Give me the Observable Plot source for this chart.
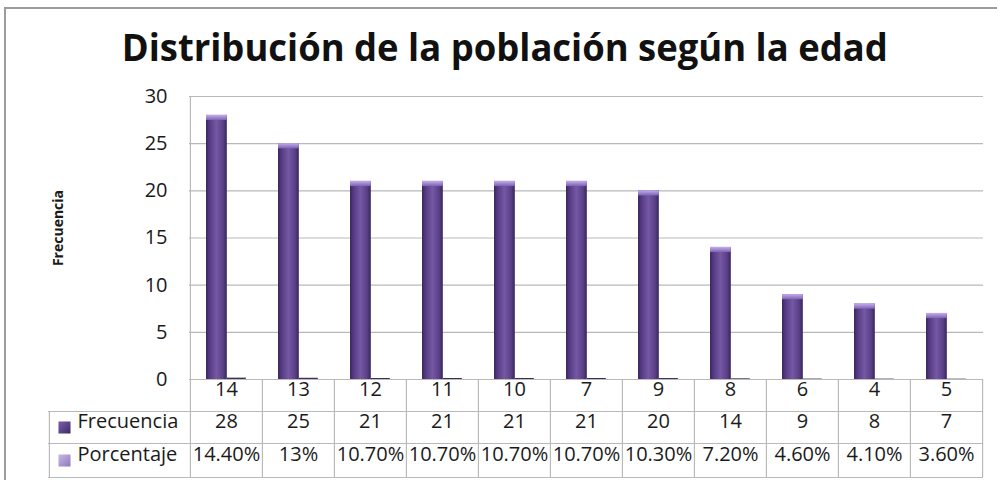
<!DOCTYPE html>
<html>
<head>
<meta charset="utf-8">
<script src="https://cdn.jsdelivr.net/npm/d3@7"></script>
<script src="https://cdn.jsdelivr.net/npm/@observablehq/plot@0.6"></script>
<style>
  html, body { margin: 0; padding: 0; background: #fff; }
  #wrap { position: relative; width: 997px; height: 480px; overflow: hidden; font-family: "Open Sans", sans-serif; color: #1a1a1a; }
  #frame { position: absolute; left: 4px; top: 7px; width: 993px; height: 480px; border-left: 2px solid #9c9c9c; border-top: 2px solid #9c9c9c; box-sizing: border-box; }
  #title { position: absolute; left: 0; width: 1010px; top: 20px; text-align: center; white-space: nowrap; }
  #title span { display: inline-block; font-weight: 700; font-size: 38px; color: #111; transform-origin: center; }
  #chart { position: absolute; left: 0; top: 80px; }
</style>
</head>
<body>
<div id="wrap">
  <div id="frame"></div>
  <div id="title"><span id="titleText">Distribución de la población según la edad</span></div>
  <div id="chart"></div>
</div>
<script>
// ---- data ----
const categories = ["14", "13", "12", "11", "10", "7", "9", "8", "6", "4", "5"];
const frecuencia = [28, 25, 21, 21, 21, 21, 20, 14, 9, 8, 7];
const porcentaje = [14.4, 13, 10.7, 10.7, 10.7, 10.7, 10.3, 7.2, 4.6, 4.1, 3.6];
const yTicks = [0, 5, 10, 15, 20, 25, 30];
const rowLabels = ["Frecuencia", "Porcentaje"];
const yLabel = "Frecuencia";

const fmtPct = d => (Number.isInteger(d) ? String(d) : d.toFixed(2)) + "%";
const data = categories.map((c, i) => ({cat: c, frec: frecuencia[i], pct: porcentaje[i]}));

// ---- layout ----
const W = 997, H = 400, mL = 189, mR = 14, mT = 16, mB = 101;
const bw = (W - mL - mR) / categories.length;
const rowH = 32;
const hdrW = 141;
const lineC = "#b9b9b9";

const svg = Plot.plot({
  width: W, height: H,
  marginLeft: mL, marginRight: mR, marginTop: mT, marginBottom: mB,
  style: {fontFamily: "'Open Sans', sans-serif", fontSize: "20px", color: "#1a1a1a", background: "transparent", overflow: "visible"},
  x: {domain: categories, padding: 0, axis: null},
  y: {domain: [0, 30], ticks: yTicks, tickSize: 0, tickPadding: 22, label: null, tickFormat: d => String(d)},
  marks: [
    // gridlines
    Plot.ruleY(yTicks, {stroke: lineC, strokeWidth: 1.2}),
    // left axis line extending through table
    Plot.ruleX([categories[0]], {x: d => d, dx: -bw / 2, stroke: lineC, strokeWidth: 1.2, insetBottom: -98}),
    // table vertical lines
    Plot.ruleX(categories.slice(1), {x: d => d, dx: -bw / 2, stroke: lineC, strokeWidth: 1.2, insetTop: 283, insetBottom: -98}),
    Plot.ruleX([categories[categories.length - 1]], {x: d => d, dx: bw / 2, stroke: lineC, strokeWidth: 1.2, insetTop: 283, insetBottom: -98}),
    Plot.ruleX([categories[0]], {x: d => d, dx: -bw / 2 - hdrW, stroke: lineC, strokeWidth: 1.2, insetTop: 283 + rowH, insetBottom: -98}),
    // table horizontal lines
    Plot.ruleY([0], {dy: rowH, insetLeft: -hdrW, stroke: lineC, strokeWidth: 1.2}),
    Plot.ruleY([0], {dy: rowH * 2, insetLeft: -hdrW, stroke: lineC, strokeWidth: 1.2}),
    Plot.ruleY([0], {dy: 98, insetLeft: -hdrW, stroke: lineC, strokeWidth: 1.2}),
    // bars
    Plot.barY(data, {x: "cat", y: "frec", fill: "url(#barGrad)", insetLeft: 16, insetRight: bw - 37}),
    Plot.barY(data, {x: "cat", y1: d => d.frec - 0.55, y2: "frec", fill: "url(#capGrad)", insetLeft: 16, insetRight: bw - 37}),
    Plot.barY(data, {x: "cat", y: d => d.pct / 100, fill: "#3e2f5a", insetLeft: 37, insetRight: bw - 56}),
    // table text
    Plot.text(categories, {x: d => d, frameAnchor: "bottom", dy: 16}),
    Plot.text(data, {x: "cat", text: d => String(d.frec), frameAnchor: "bottom", dy: 16 + rowH}),
    Plot.text(data, {x: "cat", text: d => fmtPct(d.pct), frameAnchor: "bottom", dy: 16 + rowH * 2 + 1}),
    // row headers
    Plot.text([rowLabels[0]], {frameAnchor: "bottom-left", dx: -112, dy: 16 + rowH, textAnchor: "start"}),
    Plot.text([rowLabels[1]], {frameAnchor: "bottom-left", dx: -112, dy: 16 + rowH * 2 + 1, textAnchor: "start"}),
    Plot.dot([rowLabels[0]], {frameAnchor: "bottom-left", dx: -125, dy: 16 + rowH, symbol: "square", r: 6.8, fill: "url(#sw1)", stroke: "none"}),
    Plot.dot([rowLabels[1]], {frameAnchor: "bottom-left", dx: -125, dy: 16 + rowH * 2 + 1, symbol: "square", r: 6.8, fill: "url(#sw2)", stroke: "none"}),
    // y axis label
    Plot.text([yLabel], {frameAnchor: "left", textAnchor: "middle", dx: -131, dy: -10, rotate: -90, fontWeight: "bold", fontSize: 14})
  ]
});

svg.insertAdjacentHTML("afterbegin", `
<defs>
  <linearGradient id="barGrad" x1="0" x2="1" y1="0" y2="0">
    <stop offset="0" stop-color="#3a275c"/>
    <stop offset="0.18" stop-color="#573c84"/>
    <stop offset="0.5" stop-color="#7558a4"/>
    <stop offset="0.82" stop-color="#5a3f87"/>
    <stop offset="1" stop-color="#38265a"/>
  </linearGradient>
  <linearGradient id="capGrad" x1="0" x2="0" y1="0" y2="1">
    <stop offset="0" stop-color="#c2aef0"/>
    <stop offset="1" stop-color="#7e61b0"/>
  </linearGradient>
  <linearGradient id="sw1" x1="0" x2="1" y1="0" y2="1">
    <stop offset="0" stop-color="#7a5eb0"/>
    <stop offset="1" stop-color="#3d2a63"/>
  </linearGradient>
  <linearGradient id="sw2" x1="0" x2="1" y1="0" y2="1">
    <stop offset="0" stop-color="#c8b8e8"/>
    <stop offset="1" stop-color="#8f7ab8"/>
  </linearGradient>
</defs>`);

document.getElementById("chart").appendChild(svg);

// fit title width to the reference (~766px)
const t = document.getElementById("titleText");
const tw = t.getBoundingClientRect().width;
t.style.transform = `scaleX(${766 / tw})`;
</script>
</body>
</html>
